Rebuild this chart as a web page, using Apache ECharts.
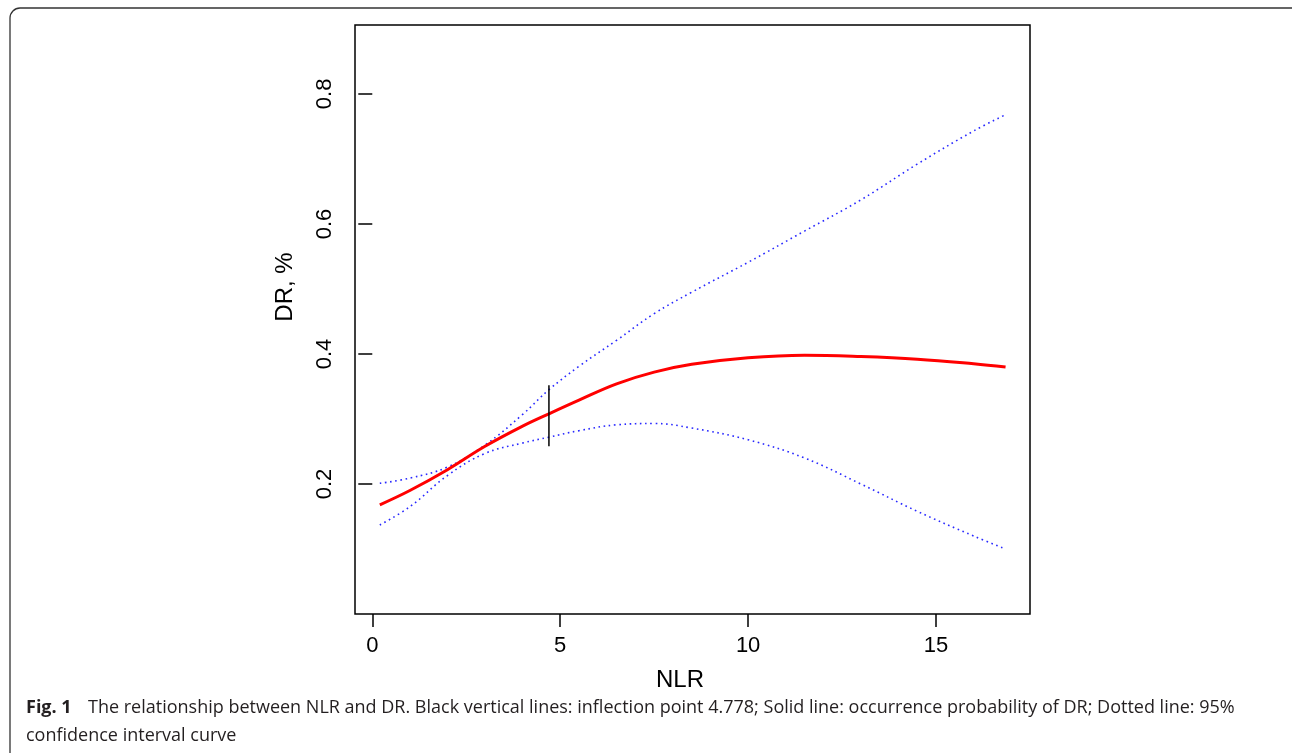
<!DOCTYPE html>
<html>
<head>
<meta charset="utf-8">
<script src="https://cdn.jsdelivr.net/npm/echarts@6/dist/echarts.min.js"></script>
<style>html,body{margin:0;padding:0;background:#fff}#c{width:1292px;height:753px}</style>
</head>
<body>
<div id="c"></div>
<script>
// NLR grid (x) and estimated values
const nlr   = [0.2, 1, 2, 3, 4, 4.7, 5.5, 6.5, 7.5, 8.5, 10, 11.5, 13, 14.5, 16, 16.85];
const dr    = [0.168, 0.190, 0.222, 0.258, 0.289, 0.308, 0.329, 0.354, 0.372, 0.384, 0.394, 0.398, 0.396, 0.392, 0.385, 0.380];
const upper = [0.201, 0.209, 0.226, 0.260, 0.307, 0.345, 0.381, 0.421, 0.462, 0.495, 0.541, 0.589, 0.637, 0.692, 0.743, 0.768];
const lower = [0.137, 0.165, 0.213, 0.247, 0.263, 0.272, 0.282, 0.291, 0.293, 0.286, 0.268, 0.240, 0.200, 0.158, 0.120, 0.100];
const inflection = 4.7;
const inflectionRange = [0.258, 0.352];
const xTicks = [0, 5, 10, 15];
const yTicks = [0.2, 0.4, 0.6, 0.8];
const xTitle = 'NLR';
const yTitle = 'DR, %';
const captionBold = 'Fig. 1';
const captionLine1 = 'The relationship between NLR and DR. Black vertical lines: inflection point 4.778; Solid line: occurrence probability of DR; Dotted line: 95%';
const captionLine2 = 'confidence interval curve';

const pairs = ys => nlr.map((x, i) => [x, ys[i]]);
const tickFont = {fontFamily: 'Liberation Sans', fontSize: 22, color: '#000'};

const chart = echarts.init(document.getElementById('c'), null, {renderer: 'canvas'});
chart.setOption({
  animation: false,
  backgroundColor: '#fff',
  grid: {left: 355, top: 25, right: 262, bottom: 139, show: true, borderColor: '#000', borderWidth: 1.5, backgroundColor: 'transparent'},
  xAxis: {
    type: 'value', min: -0.46, max: 17.5,
    axisLine: {show: false},
    splitLine: {show: false},
    axisTick: {show: true, inside: false, length: 13, lineStyle: {color: '#000', width: 1.5}, customValues: xTicks},
    axisLabel: Object.assign({margin: 21, customValues: xTicks, formatter: v => String(v)}, tickFont)
  },
  yAxis: {
    type: 'value', min: 0, max: 0.906,
    axisLine: {show: false},
    splitLine: {show: false},
    axisTick: {show: true, inside: false, length: 14, lineStyle: {color: '#000', width: 1.5}, customValues: yTicks},
    axisLabel: Object.assign({margin: 19, rotate: 90, customValues: yTicks, formatter: v => v.toFixed(1)}, tickFont)
  },
  series: [
    {type: 'line', data: pairs(upper), smooth: 0.4, symbol: 'none', lineStyle: {color: '#2828ff', width: 1.6, type: [1.6, 3.6]}, z: 2},
    {type: 'line', data: pairs(lower), smooth: 0.4, symbol: 'none', lineStyle: {color: '#2828ff', width: 1.6, type: [1.6, 3.6]}, z: 2},
    {type: 'line', data: pairs(dr), smooth: 0.4, symbol: 'none', lineStyle: {color: '#ff0000', width: 3}, z: 3},
    {type: 'line', data: [[inflection, inflectionRange[0]], [inflection, inflectionRange[1]]], symbol: 'none', lineStyle: {color: '#000', width: 1.5}, z: 4}
  ],
  graphic: [
    {type: 'rect', shape: {x: 10, y: 8, width: 1300, height: 800, r: 10}, style: {fill: 'none', stroke: '#333', lineWidth: 1.3}, silent: true},
    {type: 'text', x: 680, y: 680, style: {text: xTitle, font: '24px "Liberation Sans"', fill: '#000', textAlign: 'center', textVerticalAlign: 'middle'}},
    {type: 'text', x: 285, y: 287, rotation: Math.PI / 2, style: {text: yTitle, font: '24px "Liberation Sans"', fill: '#000', textAlign: 'center', textVerticalAlign: 'middle'}},
    {type: 'text', x: 26, y: 708, style: {text: captionBold, font: 'bold 18px "Open Sans"', fill: '#231f20', textAlign: 'left', textVerticalAlign: 'middle'}},
    {type: 'text', x: 88, y: 708, style: {text: captionLine1, font: '18px "Open Sans"', fill: '#231f20', textAlign: 'left', textVerticalAlign: 'middle'}},
    {type: 'text', x: 26, y: 736, style: {text: captionLine2, font: '18px "Open Sans"', fill: '#231f20', textAlign: 'left', textVerticalAlign: 'middle'}}
  ]
});
</script>
</body>
</html>
